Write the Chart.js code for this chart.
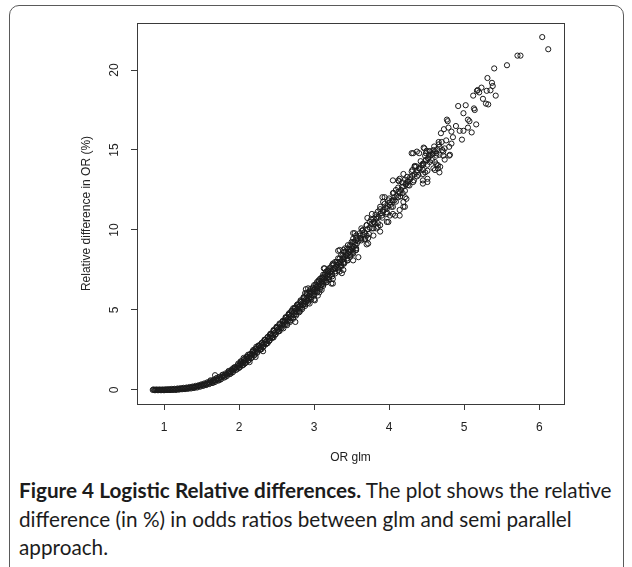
<!DOCTYPE html>
<html>
<head>
<meta charset="utf-8">
<script src="https://cdn.jsdelivr.net/npm/chart.js@4/dist/chart.umd.min.js"></script>
<style>
  html, body { margin: 0; padding: 0; background: #ffffff; }
  body { width: 632px; height: 567px; position: relative; overflow: hidden; }
  #frame { position: absolute; left: 9px; top: 5px; width: 615px; height: 580px;
           border: 1px solid #5a5a5a; border-radius: 10px; box-sizing: border-box; }
  #plot { position: absolute; left: 0; top: 0; }
  #cap { position: absolute; left: 19px; top: 476px; font-family: Lato, "Open Sans", sans-serif;
         font-size: 17px; line-height: 28.5px; color: #1c1c1c; white-space: nowrap; }
  #cap b { font-weight: 700; }
</style>
</head>
<body>
<div id="frame"></div>
<canvas id="plot" width="632" height="475"></canvas>
<div id="cap"><span id="l1"><b>Figure 4 Logistic Relative differences.</b> The plot shows the relative</span><br>difference (in %) in odds ratios between glm and semi parallel<br>approach.</div>
<script>
// ---- data ----
const xTickValues = [1, 2, 3, 4, 5, 6];
const yTickValues = [0, 5, 10, 15, 20];
const xTitle = 'OR glm';
const yTitle = 'Relative difference in OR (%)';

// dense lower part of the curve
const orGlmLow = [
  0.85,0.87,0.89,0.91,0.93,0.95,0.97,0.99,1.01,1.03,
  1.05,1.07,1.09,1.11,1.13,1.15,1.17,1.19,1.21,1.23,
  1.25,1.27,1.29,1.31,1.33,1.35,1.37,1.39,1.41,1.43,
  1.45,1.47,1.49,1.51,1.53,1.55,1.57,1.59,1.61,1.63,
  1.65,1.67,1.69,1.71,1.73,1.75,1.77,1.79,1.81,1.83,
  1.85,1.87,1.89,1.91,1.93,1.95,1.97,1.99,2.01,2.03,
  2.05,2.07,2.09,2.11,2.13,2.15,2.17,2.19,2.21,2.23,
  2.25,2.27,2.29,2.31,2.33,2.35,2.37,2.39,2.41,2.43,
  2.45,2.47,2.49,2.51,2.53,2.55,2.57,2.59,1.62,1.66,
  1.70,1.74,1.78,1.82,1.86,1.90,1.94,1.98,2.02,2.06,
  2.10,2.14,2.18,2.22,2.26,2.30,2.34,2.38,2.42,2.46,
  2.50,2.54,2.58,1.68,2.32,2.34,2.30,2.23,2.19,2.12,
  2.06,1.99,1.92,1.88,2.50,2.59,2.46,2.41,2.54,
  0.86,0.88,0.90,0.92,0.94,0.96,0.98,1.00,1.02,1.04,
  1.06,1.08,1.10,1.12,1.14,1.16,1.18,1.20,1.22,1.24,
  1.26,1.28,1.30,1.32,1.34,1.36,1.38,1.40,1.42,1.44,
  1.46,1.48,1.50,1.52,1.54,1.56,1.58,1.60,1.62,1.64,
  1.66,1.68,1.70,1.72,1.74,1.76,1.78,1.80,1.82,1.84,
  1.86,1.88,1.90,1.92,1.94,1.96,1.98,2.00,2.02,2.04,
  2.06,2.08,2.10,2.12,2.14,2.16,2.18,2.20,2.22,2.24,
  2.26,2.28,2.30,2.32,2.34,2.36,2.38,2.40,2.42,2.44,
  2.46,2.48,2.50,2.52,2.54,2.56,2.58,
  2.01,2.03,2.05,2.07,2.09,2.11,2.13,2.15,2.17,2.19,
  2.21,2.23,2.25,2.27,2.29,2.31,2.33,2.35,2.37,2.39,
  2.41,2.43,2.45,2.47,2.49,2.51,2.53,2.55,2.57,2.59
];
const relDiffLow = [
  0,0,0,0,0,0,0,0,0,0.01,
  0.01,0.01,0.02,0.02,0.03,0.03,0.04,0.05,0.06,0.07,
  0.08,0.09,0.10,0.11,0.13,0.14,0.16,0.17,0.19,0.21,
  0.23,0.26,0.28,0.31,0.33,0.36,0.39,0.43,0.46,0.50,
  0.54,0.58,0.62,0.66,0.71,0.76,0.81,0.86,0.91,0.97,
  1.03,1.09,1.15,1.21,1.28,1.35,1.42,1.50,1.57,1.64,
  1.71,1.79,1.86,1.94,2.02,2.10,2.18,2.27,2.36,2.45,
  2.54,2.63,2.72,2.81,2.90,2.99,3.08,3.17,3.26,3.35,
  3.45,3.55,3.64,3.74,3.84,3.94,4.04,4.14,0.60,0.46,
  0.74,0.62,0.95,0.82,1.18,1.06,1.42,1.32,1.78,1.58,
  2.08,1.74,2.40,2.06,2.78,2.55,3.14,2.92,3.52,3.28,
  3.90,3.68,4.30,0.92,2.42,3.10,2.90,2.70,2.50,2.20,
  2.00,1.65,1.35,1.10,3.95,3.85,3.75,3.45,4.15,
  0.03,-0.02,0.03,-0.02,0.03,-0.02,0.03,-0.02,0.04,-0.01,
  0.05,-0.01,0.06,0.00,0.07,0.00,0.09,0.02,0.11,0.04,
  0.13,0.05,0.15,0.07,0.18,0.09,0.21,0.12,0.25,0.15,
  0.29,0.20,0.35,0.25,0.41,0.30,0.48,0.36,0.55,0.43,
  0.63,0.50,0.72,0.58,0.82,0.67,0.92,0.77,1.03,0.88,
  1.15,0.99,1.27,1.12,1.40,1.25,1.55,1.38,1.70,1.52,
  1.87,1.66,2.03,1.82,2.20,1.98,2.38,2.15,2.56,2.32,
  2.74,2.50,2.93,2.68,3.12,2.86,3.31,3.05,3.50,3.25,
  3.70,3.45,3.90,3.65,4.10,3.85,4.30,
  1.42,1.79,1.56,1.94,1.71,2.09,1.87,2.25,2.03,2.42,
  2.21,2.60,2.39,2.78,2.57,2.96,2.75,3.14,2.93,3.32,
  3.11,3.50,3.30,3.70,3.49,3.89,3.69,4.09,3.89,4.29
];

// middle band
const orGlmMid = [
  2.61,2.63,2.65,2.67,2.69,2.71,2.73,2.75,2.77,2.79,
  2.81,2.83,2.85,2.87,2.89,2.91,2.93,2.95,2.97,2.99,
  3.01,3.03,3.05,3.07,3.09,3.11,3.13,3.15,3.17,3.19,
  3.21,3.23,3.25,3.27,3.29,3.31,3.33,3.35,3.37,3.39,
  3.41,3.43,3.45,3.47,3.49,3.51,3.53,3.55,3.57,3.59,
  2.62,2.66,2.70,2.78,2.82,2.86,2.90,2.95,3.00,3.04,
  3.08,3.12,3.16,3.20,3.24,3.28,3.32,3.36,3.40,3.44,
  3.48,3.52,3.56,
  2.64,2.68,2.72,2.76,2.80,2.84,2.88,2.92,2.96,3.00,
  3.04,3.08,3.12,3.16,3.20,3.24,3.28,3.32,3.36,3.40,
  3.44,3.48,3.52,3.56,
  2.74,2.79,2.85,2.83,2.94,2.91,3.01,2.96,2.92,2.88,
  3.05,2.99,3.10,3.03,3.06,3.10,3.23,3.17,3.25,3.12,
  3.21,3.14,3.37,3.39,3.19,3.28,3.34,3.25,3.39,3.32,
  3.52,3.45,3.39,3.43,3.50,3.59,3.34,3.41,3.48,3.56,
  3.52,3.45,3.50,2.94,3.07,2.87,2.77,2.72,2.81,2.67,
  2.75,2.61,2.89,3.13,3.34,3.32,3.39,3.25,3.00,
  2.62,2.64,2.66,2.68,2.70,2.72,2.74,2.76,2.78,2.80,
  2.82,2.84,2.86,2.88,2.90,2.92,2.94,2.96,2.98,3.00,
  3.02,3.04,3.06,3.08,3.10,3.12,3.14,3.16,3.18,3.20,
  3.22,3.24,3.26,3.28,3.30,3.32,3.34,3.36,3.38,3.40,
  3.42,3.44,3.46,3.48,3.50,3.52,3.54,3.56,3.58,
  2.61,2.63,2.65,2.67,2.69,2.71,2.73,2.75,2.77,2.79,
  2.81,2.83,2.85,2.87,2.89,2.91,2.93,2.95,2.97,2.99,
  3.01,3.03,3.05,3.07,3.09,3.11,3.13,3.15,3.17,3.19
];
const relDiffMid = [
  4.24,4.35,4.43,4.55,4.63,4.75,4.83,4.95,5.03,5.15,
  5.24,5.36,5.45,5.57,5.66,5.78,5.87,5.99,6.08,6.20,
  6.29,6.41,6.50,6.63,6.71,6.84,6.92,7.05,7.13,7.27,
  7.35,7.45,7.52,7.62,7.70,7.82,7.90,8.02,8.10,8.22,
  8.30,8.44,8.50,8.64,8.72,8.85,8.93,9.07,9.15,9.30,
  4.50,4.70,4.95,5.35,5.60,5.80,6.05,6.30,6.55,6.75,
  6.95,7.20,7.40,7.60,7.80,8.00,8.22,8.42,8.62,8.85,
  9.05,9.25,9.50,
  4.05,4.25,4.45,4.65,4.85,5.05,5.25,5.45,5.65,5.90,
  6.10,6.30,6.50,6.72,6.92,7.10,7.28,7.50,7.70,7.90,
  8.10,8.32,8.52,8.75,
  5.1,5.2,5.3,5.5,5.4,5.6,5.6,5.8,6.35,6.05,
  5.9,6.25,6.25,6.45,6.85,6.55,6.65,6.75,6.95,7.05,
  7.15,7.6,7.3,7.5,7.5,7.6,7.7,7.9,7.9,8.0,
  8.1,8.1,8.3,8.4,8.5,8.3,8.75,8.85,8.75,8.75,
  8.95,9.05,9.25,6.0,6.1,5.4,5.3,5.1,4.9,4.8,
  4.25,4.35,6.3,7.6,7.4,8.7,8.75,6.65,5.65,
  4.55,4.14,4.74,4.34,4.94,4.54,5.14,4.74,5.34,4.95,
  5.55,5.15,5.76,5.36,5.97,5.57,6.18,5.78,6.39,5.99,
  6.60,6.20,6.81,6.42,7.02,6.63,7.23,6.84,7.45,7.05,
  7.65,7.24,7.82,7.41,8.01,7.61,8.21,7.81,8.41,8.01,
  8.62,8.22,8.82,8.43,9.03,8.64,9.25,8.86,9.47,
  4.09,4.50,4.28,4.70,4.48,4.90,4.68,5.10,4.88,5.30,
  5.09,5.51,5.30,5.72,5.51,5.93,5.72,6.14,5.93,6.35,
  6.14,6.56,6.35,6.78,6.56,6.99,6.77,7.20,6.98,7.42
];

// upper, more scattered part
const orGlmHigh = [
  3.62,3.65,3.68,3.71,3.74,3.77,3.80,3.83,3.86,3.89,
  3.92,3.95,3.98,4.01,4.04,4.07,4.10,4.13,4.16,4.19,
  4.22,4.25,4.28,4.31,4.34,4.37,4.40,4.43,4.46,4.49,
  4.52,4.55,4.58,4.61,4.64,4.67,
  3.65,3.61,3.70,3.56,3.63,3.72,3.52,3.56,3.74,3.81,
  3.70,3.77,3.85,3.88,3.88,3.92,3.85,3.90,3.83,3.97,
  4.01,4.05,3.77,3.79,4.14,4.19,3.94,3.99,3.92,4.01,
  3.97,4.05,4.09,4.05,4.14,4.21,4.12,4.07,4.19,4.05,
  4.13,4.23,4.17,4.25,4.19,4.28,4.32,4.21,4.14,4.51,
  4.45,4.45,4.45,4.41,4.34,4.51,4.45,4.37,4.52,4.61,
  4.65,4.59,4.67,4.30,4.37,4.49,4.54,4.63,4.72,4.80,
  3.79,3.88,3.97,3.83,3.63,3.54,3.61,3.68,3.79,3.72,
  3.63,3.52,3.70,3.71,3.91,4.05,4.12,4.25,4.18,4.23,
  4.21,4.08,3.99,4.14,4.34,4.31,4.37,4.48,4.51,4.63,
  4.65,4.61,4.68,4.49,4.45,4.54,4.74,4.67,4.72,4.81,
  4.32,4.40,4.46,4.50,4.59,4.53,4.58,4.47,4.74,4.71,
  4.83,4.80,4.76,4.70,4.66,4.85,4.97,4.83,4.69,4.94,
  4.99,5.05,5.10,4.73,4.79,4.89,5.16,5.05,5.07,4.77,
  4.78,6.04,6.12,5.71,5.75,5.57,5.40,5.31,5.37,5.38,
  5.23,5.17,5.30,5.12,5.42,5.25,5.29,5.32,4.92,5.02,
  4.99,5.13,5.20,5.14,5.35,5.18,
  3.64,3.67,3.70,3.73,3.76,3.79,3.82,3.85,3.88,3.91,
  3.94,3.97,4.00,4.03,4.06,4.09,4.12,4.15,4.18,4.21,
  4.24,4.27,4.30,4.33,4.36,4.39,4.42,4.45,4.48,4.51,
  4.54,4.57,4.60,4.63,4.66
];
const relDiffHigh = [
  9.50,9.70,9.82,10.05,10.15,10.38,10.50,10.70,10.82,11.05,
  11.15,11.38,11.50,11.72,11.85,12.05,12.15,12.40,12.50,12.72,
  12.85,13.05,13.18,13.38,13.50,13.72,13.85,14.05,14.15,14.38,
  14.50,14.65,14.80,14.92,15.05,15.20,
  10.0,9.8,9.65,9.65,9.45,9.5,9.45,9.35,10.5,10.4,
  10.3,10.1,10.2,9.9,11.45,11.25,11.15,10.9,10.8,11.0,
  10.9,11.0,11.0,10.7,11.25,11.45,12.05,11.85,11.75,11.55,
  11.35,11.45,12.5,12.3,12.3,12.05,12.05,11.85,11.75,13.1,
  13.05,12.9,12.7,12.8,13.5,13.3,13.0,13.15,13.2,13.0,
  13.1,12.9,14.05,13.85,13.95,13.7,13.5,13.35,14.45,14.25,
  14.05,13.85,13.6,14.8,14.9,14.8,14.9,14.8,14.9,14.65,
  10.5,10.3,10.5,10.1,10.1,9.8,9.65,9.45,9.65,9.15,
  9.35,9.8,9.1,10.75,12.05,11.85,13.1,13.0,12.3,11.95,
  11.45,10.9,10.5,10.9,14.0,13.75,13.6,13.6,13.2,14.1,
  13.85,13.75,13.95,14.35,14.15,14.25,14.4,14.7,14.65,14.7,
  14.8,14.8,15.15,14.95,15.0,14.7,14.75,15.1,15.1,15.0,
  15.4,15.2,15.6,15.5,15.35,15.8,15.65,16.15,16.05,16.2,
  16.2,16.4,16.1,16.3,16.4,16.5,16.6,16.9,16.8,16.9,
  16.8,22.06,21.3,20.9,20.9,20.3,20.1,19.5,19.2,19.0,
  18.9,18.7,18.7,18.4,18.4,18.2,17.9,17.85,17.75,17.8,
  17.3,17.6,18.6,17.5,18.73,18.75,
  9.95,9.42,10.30,9.75,10.65,10.10,10.97,10.43,11.30,10.77,
  11.63,11.10,11.97,11.45,12.32,11.77,12.65,12.10,12.97,12.45,
  13.32,12.78,13.65,13.10,13.98,13.45,14.30,13.75,14.63,14.08,
  14.93,14.37,15.22,14.65,15.50
];

// ---- build chart ----
const points = [];
[[orGlmLow, relDiffLow], [orGlmMid, relDiffMid], [orGlmHigh, relDiffHigh]].forEach(([xs, ys]) => {
  const n = Math.min(xs.length, ys.length);
  for (let i = 0; i < n; i++) points.push({ x: xs[i], y: ys[i] });
});

const axisFont = { family: '"Liberation Sans", Arial, Helvetica, sans-serif', size: 12 };
const ink = '#222222';
const lineInk = '#3a3a3a';

const boxPlugin = {
  id: 'box',
  afterDraw(chart) {
    const { ctx, chartArea: a } = chart;
    ctx.save();
    ctx.strokeStyle = lineInk;
    ctx.lineWidth = 1;
    const l = Math.round(a.left) + 0.5, r = Math.round(a.right) + 0.5;
    const t = Math.round(a.top) + 0.5, b = Math.round(a.bottom) + 0.5;
    ctx.strokeRect(l, t, r - l, b - t);
    ctx.restore();
  }
};

new Chart(document.getElementById('plot'), {
  type: 'scatter',
  data: {
    datasets: [{
      data: points,
      pointStyle: 'circle',
      pointRadius: 2.6,
      pointHoverRadius: 2.6,
      borderWidth: 1,
      borderColor: '#1a1a1a',
      backgroundColor: 'rgba(0,0,0,0)'
    }]
  },
  options: {
    responsive: false,
    animation: false,
    devicePixelRatio: 1,
    events: [],
    layout: { padding: { left: 0, top: 23, right: 68, bottom: 0 } },
    plugins: { legend: { display: false }, tooltip: { enabled: false } },
    scales: {
      x: {
        type: 'linear', position: 'bottom', min: 0.64, max: 6.33,
        afterBuildTicks: s => { s.ticks = xTickValues.map(v => ({ value: v })); },
        afterFit: s => { s.height = 71; },
        grid: { drawOnChartArea: false, drawTicks: true, tickLength: 6, color: lineInk, lineWidth: 1 },
        border: { display: false },
        ticks: { color: ink, font: axisFont, padding: 10, maxRotation: 0, autoSkip: false },
        title: { display: true, text: xTitle, color: ink, font: axisFont, padding: { top: 0, bottom: 10.3 } }
      },
      y: {
        type: 'linear', position: 'left', min: -0.88, max: 22.94,
        afterBuildTicks: s => { s.ticks = yTickValues.map(v => ({ value: v })); },
        afterFit: s => { s.width = 137; },
        grid: { drawOnChartArea: false, drawTicks: true, tickLength: 6, color: lineInk, lineWidth: 1 },
        border: { display: false },
        ticks: { color: ink, font: axisFont, padding: 9.6, minRotation: 90, maxRotation: 90, crossAlign: 'center', autoSkip: false },
        title: { display: true, text: yTitle, color: ink, font: axisFont, padding: { top: 79.5, bottom: 0 } }
      }
    }
  },
  plugins: [boxPlugin]
});

// fit caption's first line to the reference width
(function fitCaption() {
  const cap = document.getElementById('cap');
  const l1 = document.getElementById('l1');
  const target = 593;
  const w = l1.getBoundingClientRect().width;
  if (w > 0) {
    const fs = 17 * target / w;
    cap.style.fontSize = fs.toFixed(2) + 'px';
  }
})();
</script>
</body>
</html>
